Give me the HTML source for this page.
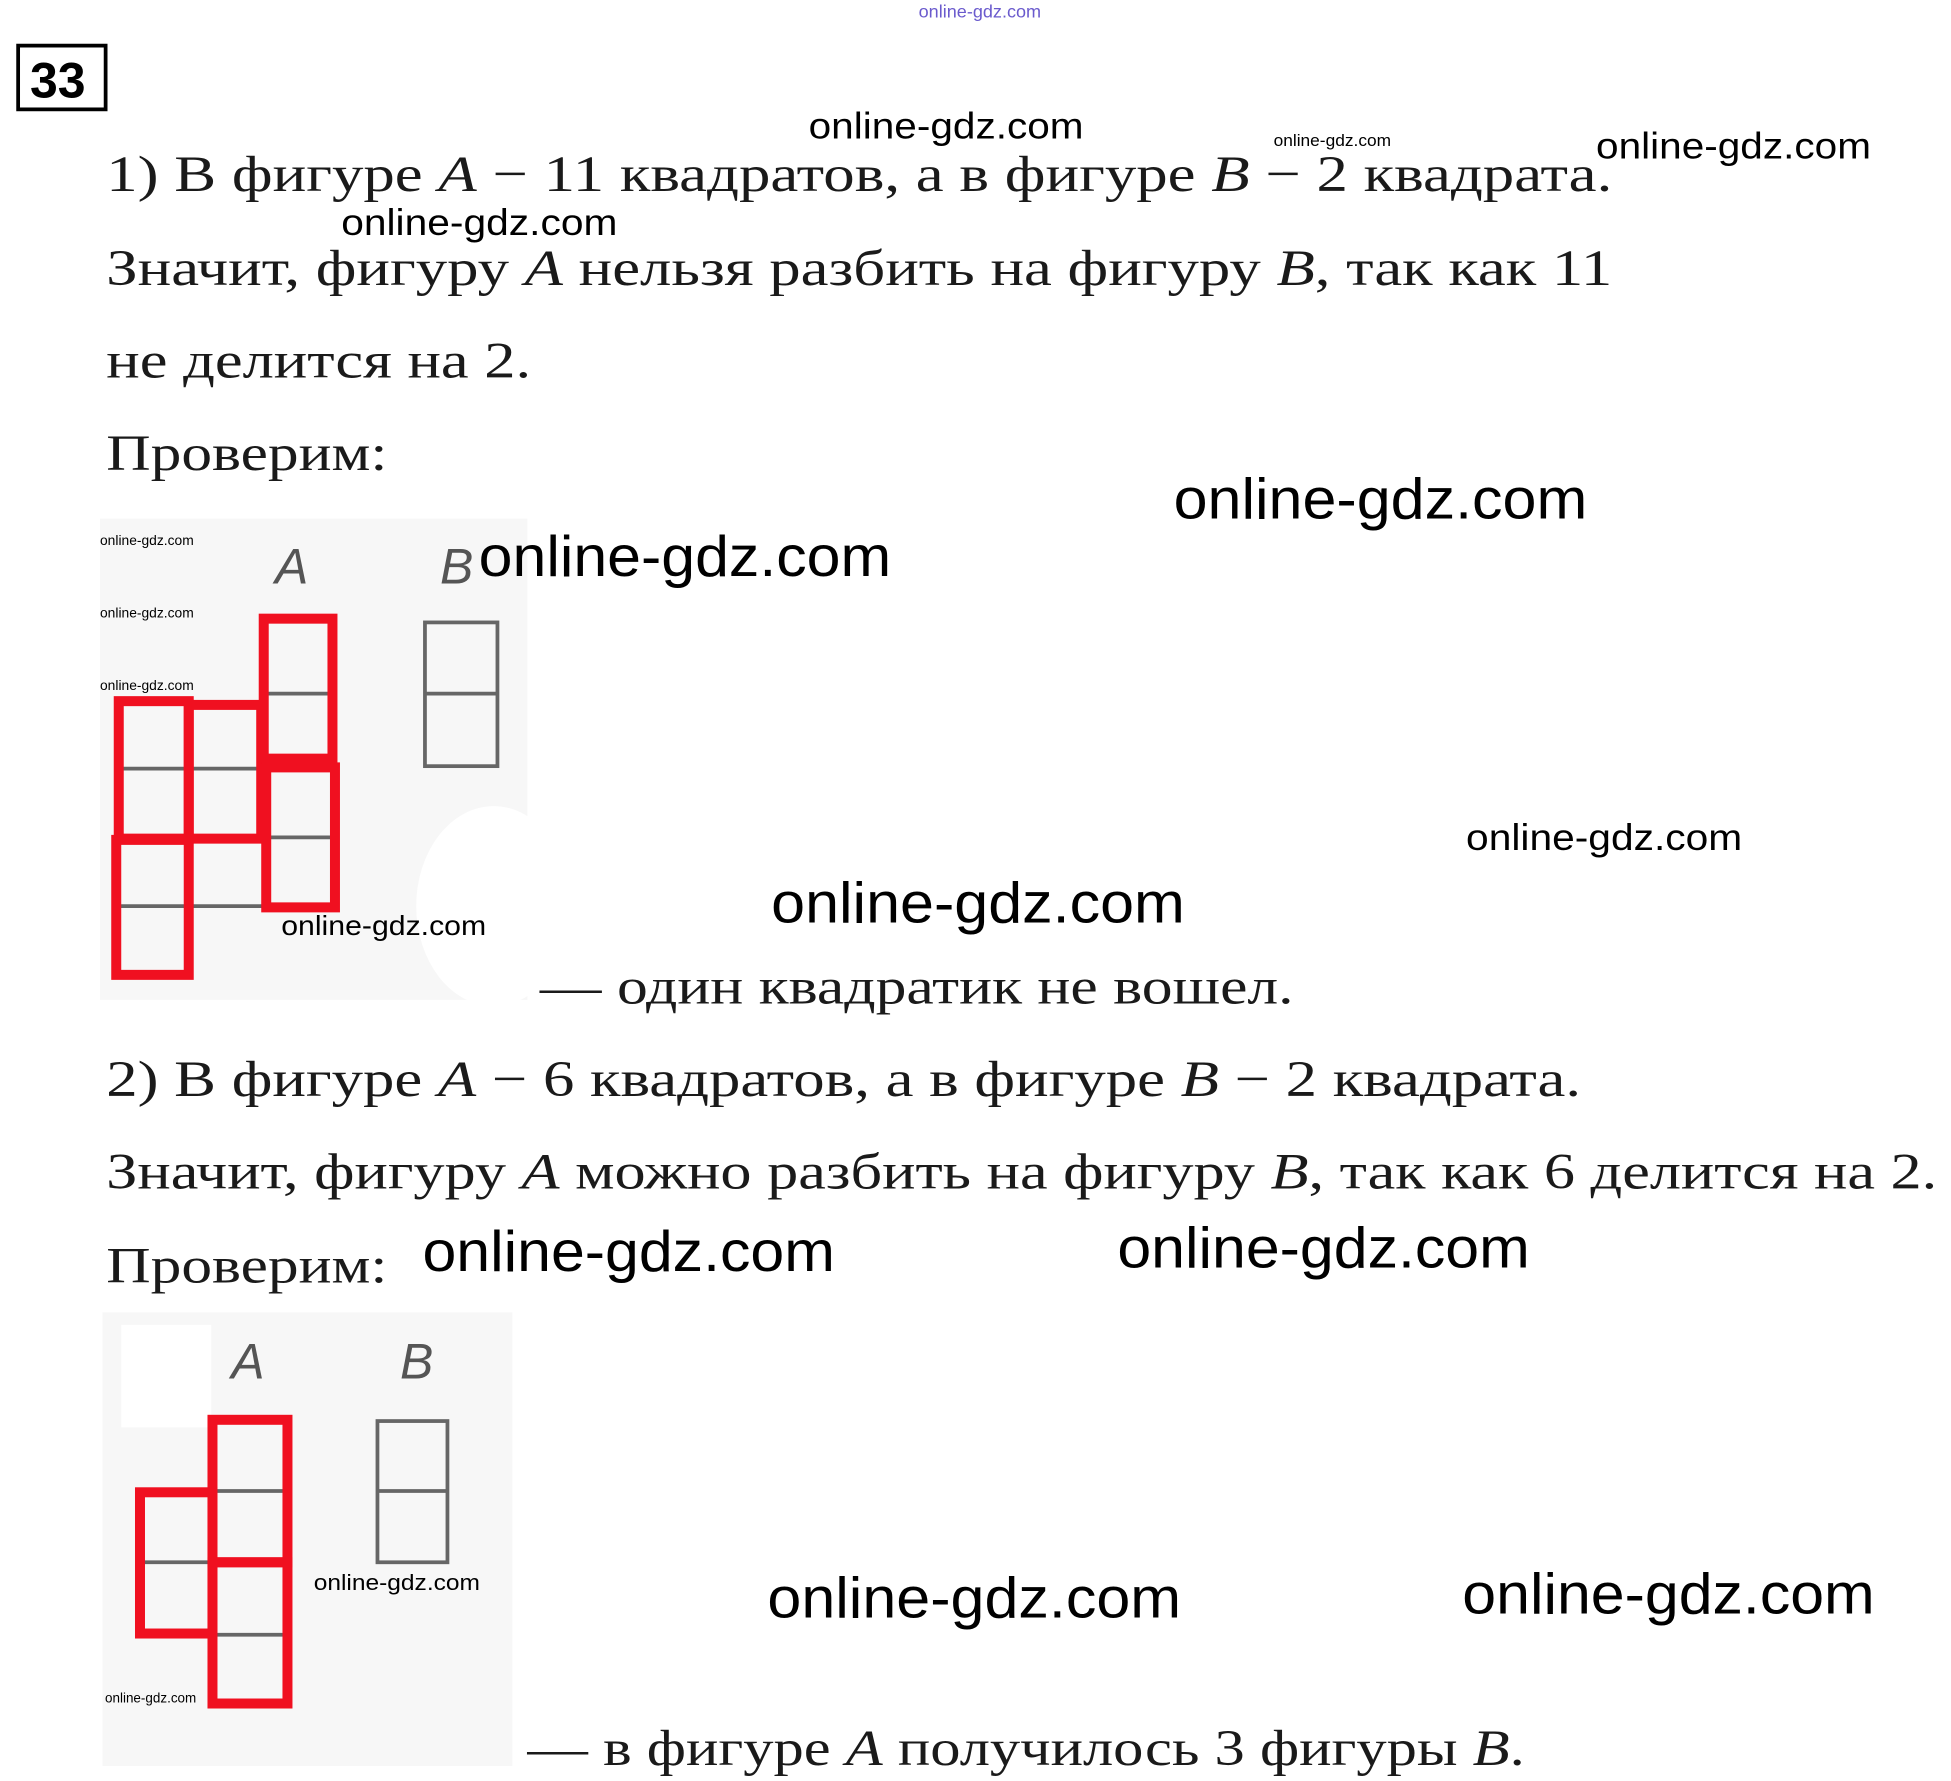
<!DOCTYPE html>
<html><head><meta charset="utf-8"><style>
html,body{margin:0;padding:0;background:#fff;}
svg{display:block;}
.t{font-family:"Liberation Serif",serif;font-size:41px;fill:#1a1a1a;}
.w{font-family:"Liberation Sans",sans-serif;fill:#000;}
.L{font-family:"Liberation Sans",sans-serif;font-style:italic;fill:#555;font-size:40px;}
</style></head><body>
<svg width="1951" height="1781" viewBox="0 0 1561 1425" xmlns="http://www.w3.org/2000/svg">
<rect width="1561" height="1425" fill="#fff"/>
<text x="735" y="14" class="w" font-size="14" fill="#6a5acd" style="fill:#6a5acd" textLength="98" lengthAdjust="spacingAndGlyphs">online-gdz.com</text>
<rect x="14.5" y="36.5" width="70" height="51" fill="none" stroke="#000" stroke-width="3"/>
<text x="24" y="78" font-family="Liberation Sans,sans-serif" font-weight="bold" font-size="40" fill="#000">33</text>

<text x="85" y="153" class="t" textLength="1205" lengthAdjust="spacingAndGlyphs">1) В фигуре <tspan font-style="italic">A</tspan> − 11 квадратов, а в фигуре <tspan font-style="italic">B</tspan> − 2 квадрата.</text>
<text x="85" y="228" class="t" textLength="1205" lengthAdjust="spacingAndGlyphs">Значит, фигуру <tspan font-style="italic">A</tspan> нельзя разбить на фигуру <tspan font-style="italic">B</tspan>, так как 11</text>
<text x="85" y="302" class="t" textLength="340" lengthAdjust="spacingAndGlyphs">не делится на 2.</text>
<text x="85" y="376" class="t" textLength="225" lengthAdjust="spacingAndGlyphs">Проверим:</text>

<!-- figure 1 -->
<rect x="80" y="415" width="342" height="385" fill="#f7f7f7"/>
<ellipse cx="395" cy="725" rx="62" ry="80" fill="#fff"/>
<text x="220" y="467" class="L">A</text>
<text x="352" y="467" class="L">B</text>
<g stroke="#666" stroke-width="3" fill="none">
<line x1="95" y1="615" x2="210" y2="615"/>
<line x1="95" y1="725" x2="210" y2="725"/>
<line x1="150" y1="560" x2="150" y2="725"/>
<line x1="210" y1="555" x2="268" y2="555"/>
<line x1="210" y1="670" x2="268" y2="670"/>
<rect x="340" y="498" width="58" height="115"/>
<line x1="340" y1="555" x2="398" y2="555"/>
</g>
<g stroke="#f01020" stroke-width="8" fill="none">
<rect x="95" y="561" width="56" height="110"/>
<rect x="151" y="564" width="58" height="107"/>
<rect x="211" y="495" width="55" height="112"/>
<rect x="213" y="614" width="55" height="112"/>
<rect x="93" y="672" width="58" height="108"/>
</g>

<text x="432" y="803" class="t" textLength="603" lengthAdjust="spacingAndGlyphs">— один квадратик не вошел.</text>
<text x="85" y="877" class="t" textLength="1180" lengthAdjust="spacingAndGlyphs">2) В фигуре <tspan font-style="italic">A</tspan> − 6 квадратов, а в фигуре <tspan font-style="italic">B</tspan> − 2 квадрата.</text>
<text x="85" y="951" class="t" textLength="1465" lengthAdjust="spacingAndGlyphs">Значит, фигуру <tspan font-style="italic">A</tspan> можно разбить на фигуру <tspan font-style="italic">B</tspan>, так как 6 делится на 2.</text>
<text x="85" y="1026" class="t" textLength="225" lengthAdjust="spacingAndGlyphs">Проверим:</text>

<!-- figure 2 -->
<rect x="82" y="1050" width="328" height="363" fill="#f7f7f7"/>
<rect x="97" y="1060" width="72" height="82" fill="#fff"/>
<text x="185" y="1103" class="L">A</text>
<text x="320" y="1103" class="L">B</text>
<g stroke="#666" stroke-width="3" fill="none">
<line x1="170" y1="1193" x2="230" y2="1193"/>
<line x1="112" y1="1250" x2="170" y2="1250"/>
<line x1="170" y1="1308" x2="230" y2="1308"/>
<rect x="302" y="1137" width="56" height="113"/>
<line x1="302" y1="1193" x2="358" y2="1193"/>
</g>
<g stroke="#f01020" stroke-width="8" fill="none">
<rect x="170" y="1136" width="60" height="114"/>
<rect x="170" y="1250" width="60" height="113"/>
<rect x="112" y="1194" width="58" height="113"/>
</g>
<text x="422" y="1412" class="t" textLength="798" lengthAdjust="spacingAndGlyphs">— в фигуре <tspan font-style="italic">A</tspan> получилось 3 фигуры <tspan font-style="italic">B</tspan>.</text>

<!-- watermarks -->
<g class="w">
<text x="647" y="111" font-size="30" textLength="220" lengthAdjust="spacingAndGlyphs">online-gdz.com</text>
<text x="1019" y="117" font-size="13" textLength="94" lengthAdjust="spacingAndGlyphs">online-gdz.com</text>
<text x="1277" y="127" font-size="30" textLength="220" lengthAdjust="spacingAndGlyphs">online-gdz.com</text>
<text x="273" y="188" font-size="30" textLength="221" lengthAdjust="spacingAndGlyphs">online-gdz.com</text>
<text x="939" y="415" font-size="46" textLength="331" lengthAdjust="spacingAndGlyphs">online-gdz.com</text>
<text x="383" y="461" font-size="46" textLength="330" lengthAdjust="spacingAndGlyphs">online-gdz.com</text>
<text x="80" y="436" font-size="11" textLength="75" lengthAdjust="spacingAndGlyphs">online-gdz.com</text>
<text x="80" y="494" font-size="11" textLength="75" lengthAdjust="spacingAndGlyphs">online-gdz.com</text>
<text x="80" y="552" font-size="11" textLength="75" lengthAdjust="spacingAndGlyphs">online-gdz.com</text>
<text x="225" y="748" font-size="22" textLength="164" lengthAdjust="spacingAndGlyphs">online-gdz.com</text>
<text x="617" y="738" font-size="46" textLength="331" lengthAdjust="spacingAndGlyphs">online-gdz.com</text>
<text x="1173" y="680" font-size="30" textLength="221" lengthAdjust="spacingAndGlyphs">online-gdz.com</text>
<text x="338" y="1017" font-size="46" textLength="330" lengthAdjust="spacingAndGlyphs">online-gdz.com</text>
<text x="894" y="1014" font-size="46" textLength="330" lengthAdjust="spacingAndGlyphs">online-gdz.com</text>
<text x="251" y="1272" font-size="18" textLength="133" lengthAdjust="spacingAndGlyphs">online-gdz.com</text>
<text x="614" y="1294" font-size="46" textLength="331" lengthAdjust="spacingAndGlyphs">online-gdz.com</text>
<text x="1170" y="1291" font-size="46" textLength="330" lengthAdjust="spacingAndGlyphs">online-gdz.com</text>
<text x="84" y="1362" font-size="11" textLength="73" lengthAdjust="spacingAndGlyphs">online-gdz.com</text>
</g>
</svg>
</body></html>
